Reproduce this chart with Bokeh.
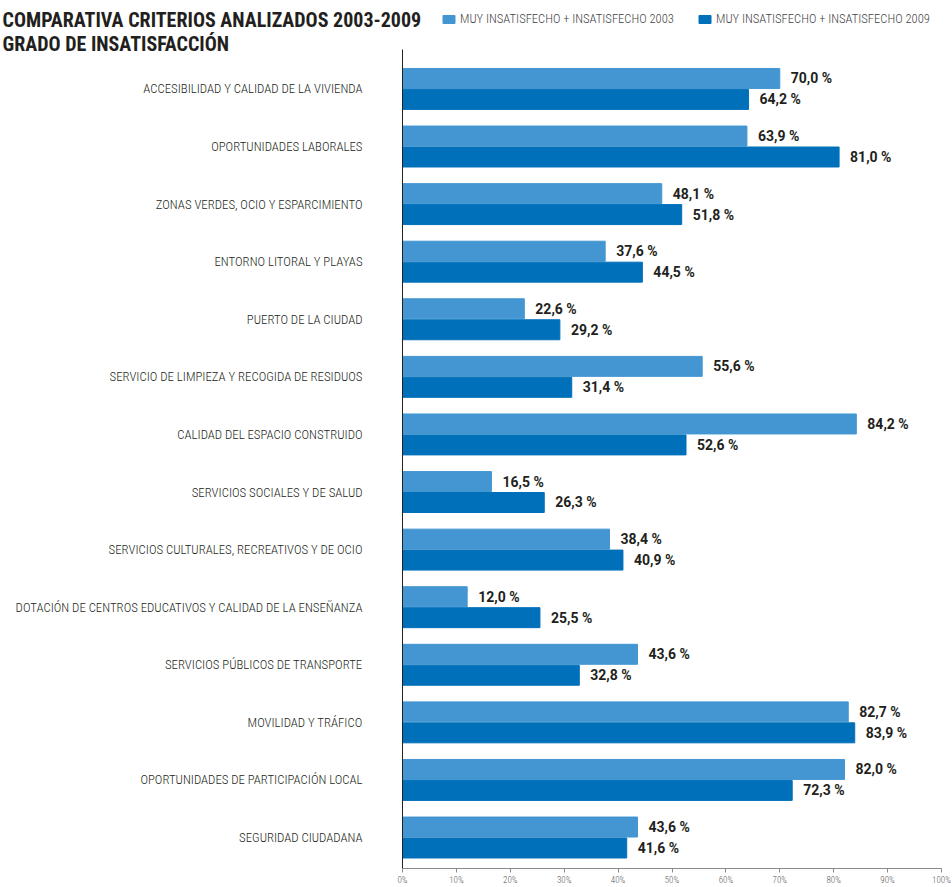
from bokeh.plotting import figure
from bokeh.models import (ColumnDataSource, Range1d, FixedTicker, PrintfTickFormatter,
                          Label, Legend, LegendItem)
from bokeh.transform import dodge
from bokeh.core.properties import value
from bokeh.embed import file_html
from bokeh.resources import INLINE

categories = [
    "ACCESIBILIDAD Y CALIDAD DE LA VIVIENDA",
    "OPORTUNIDADES LABORALES",
    "ZONAS VERDES, OCIO Y ESPARCIMIENTO",
    "ENTORNO LITORAL Y PLAYAS",
    "PUERTO DE LA CIUDAD",
    "SERVICIO DE LIMPIEZA Y RECOGIDA DE RESIDUOS",
    "CALIDAD DEL ESPACIO CONSTRUIDO",
    "SERVICIOS SOCIALES Y DE SALUD",
    "SERVICIOS CULTURALES, RECREATIVOS Y DE OCIO",
    "DOTACIÓN DE CENTROS EDUCATIVOS Y CALIDAD DE LA ENSEÑANZA",
    "SERVICIOS PÚBLICOS DE TRANSPORTE",
    "MOVILIDAD Y TRÁFICO",
    "OPORTUNIDADES DE PARTICIPACIÓN LOCAL",
    "SEGURIDAD CIUDADANA",
]
v2003 = [70.0, 63.9, 48.1, 37.6, 22.6, 55.6, 84.2, 16.5, 38.4, 12.0, 43.6, 82.7, 82.0, 43.6]
v2009 = [64.2, 81.0, 51.8, 44.5, 29.2, 31.4, 52.6, 26.3, 40.9, 25.5, 32.8, 83.9, 72.3, 41.6]
series_names = ["MUY INSATISFECHO + INSATISFECHO 2003", "MUY INSATISFECHO + INSATISFECHO 2009"]
x_ticks = [0, 10, 20, 30, 40, 50, 60, 70, 80, 90, 100]
title_lines = ["COMPARATIVA CRITERIOS ANALIZADOS 2003-2009", "GRADO DE INSATISFACCIÓN"]

C2003 = "#4396D2"
C2009 = "#0070BA"
FONT = "Roboto Condensed, Roboto"
FONT_LIGHT = "Roboto Condensed Light, Roboto Condensed, Roboto"
TXT = "#231f20"

# layout (pixels)
W, HGT = 952, 887
BR, BB = 11, 18
FW, FH = W - BR, HGT - BB          # frame covers the canvas from its top-left corner
AXIS_X = 402                       # pixel position of the value axis origin
AXIS_TOP = 49                      # pixel where the category axis line starts
PITCH = 57.65                      # pixels per category
Y0 = -0.538                        # bottom of the category axis (data units)
Y_TOP = Y0 + (FH - AXIS_TOP) / PITCH
X_START = -100.0 * AXIS_X / (FW - AXIS_X)

n = len(categories)
ypos = [n - 1 - i for i in range(n)]

def fmt(v):
    return f"{v:.1f}".replace(".", ",") + " %"

src = ColumnDataSource(dict(
    y=ypos, cat=categories, v2003=v2003, v2009=v2009,
    t2003=[fmt(v) for v in v2003], t2009=[fmt(v) for v in v2009],
))

p = figure(width=W, height=HGT, output_backend="svg", toolbar_location=None,
           x_range=Range1d(X_START, 100), y_range=Range1d(Y0, Y0 + FH / PITCH),
           min_border_left=0, min_border_right=BR, min_border_top=0, min_border_bottom=BB)
p.outline_line_color = None
p.xgrid.visible = False
p.ygrid.visible = False

OFF = 0.182
H = 0.347
r1 = p.hbar(y=dodge("y", OFF), left=0, right="v2003", height=H, color=C2003, source=src)
r2 = p.hbar(y=dodge("y", -OFF), left=0, right="v2009", height=H, color=C2009, source=src)

for col, tcol, off in (("v2003", "t2003", OFF), ("v2009", "t2009", -OFF)):
    p.text(x=col, y=dodge("y", off), text=tcol, source=src, x_offset=11,
           text_baseline="middle", text_align="left",
           text_font=value("Roboto"), text_font_style="bold",
           text_font_size="14px", text_color=TXT)

# value axis
xa = p.xaxis[0]
xa.bounds = (0, 100)
xa.ticker = FixedTicker(ticks=x_ticks)
xa.formatter = PrintfTickFormatter(format="%d%%")
xa.axis_line_color = "#8a8a8a"
xa.major_tick_line_color = "#8a8a8a"
xa.major_tick_out = 4
xa.major_tick_in = 0
xa.minor_tick_line_color = None
xa.major_label_text_font = FONT_LIGHT
xa.major_label_text_font_size = "9px"
xa.major_label_text_color = "#555555"
xa.major_label_standoff = 2

# category axis, drawn at value 0
ya = p.yaxis[0]
ya.fixed_location = 0
ya.bounds = (Y0, Y_TOP)
ya.ticker = FixedTicker(ticks=ypos)
ya.major_label_overrides = {y: c for y, c in zip(ypos, categories)}
ya.axis_line_color = "#222222"
ya.major_tick_line_color = None
ya.minor_tick_line_color = None
ya.major_tick_out = 0
ya.major_tick_in = 0
ya.major_label_standoff = 40
ya.major_label_text_font = FONT_LIGHT
ya.major_label_text_font_size = "12.8px"
ya.major_label_text_color = TXT

# title
p.add_layout(Label(x=2, y=FH - 20, x_units="screen", y_units="screen", text=title_lines[0],
                   text_font=FONT, text_font_style="bold", text_font_size="20px",
                   text_color=TXT, text_baseline="alphabetic"))
p.add_layout(Label(x=2, y=FH - 44, x_units="screen", y_units="screen", text=title_lines[1],
                   text_font=FONT, text_font_style="bold", text_font_size="20px",
                   text_color=TXT, text_baseline="alphabetic"))

legend = Legend(items=[LegendItem(label=series_names[0], renderers=[r1]),
                       LegendItem(label=series_names[1], renderers=[r2])],
                location=(441, FH - 27), orientation="horizontal",
                padding=0, margin=0, spacing=23, label_standoff=4,
                glyph_width=15, glyph_height=10, label_height=10,
                label_text_font=FONT_LIGHT, label_text_font_size="12.6px",
                label_text_color="#444444", label_text_baseline="middle",
                border_line_color=None, background_fill_alpha=0)
p.add_layout(legend, "center")

open("out.html", "w").write(file_html(p, INLINE))
